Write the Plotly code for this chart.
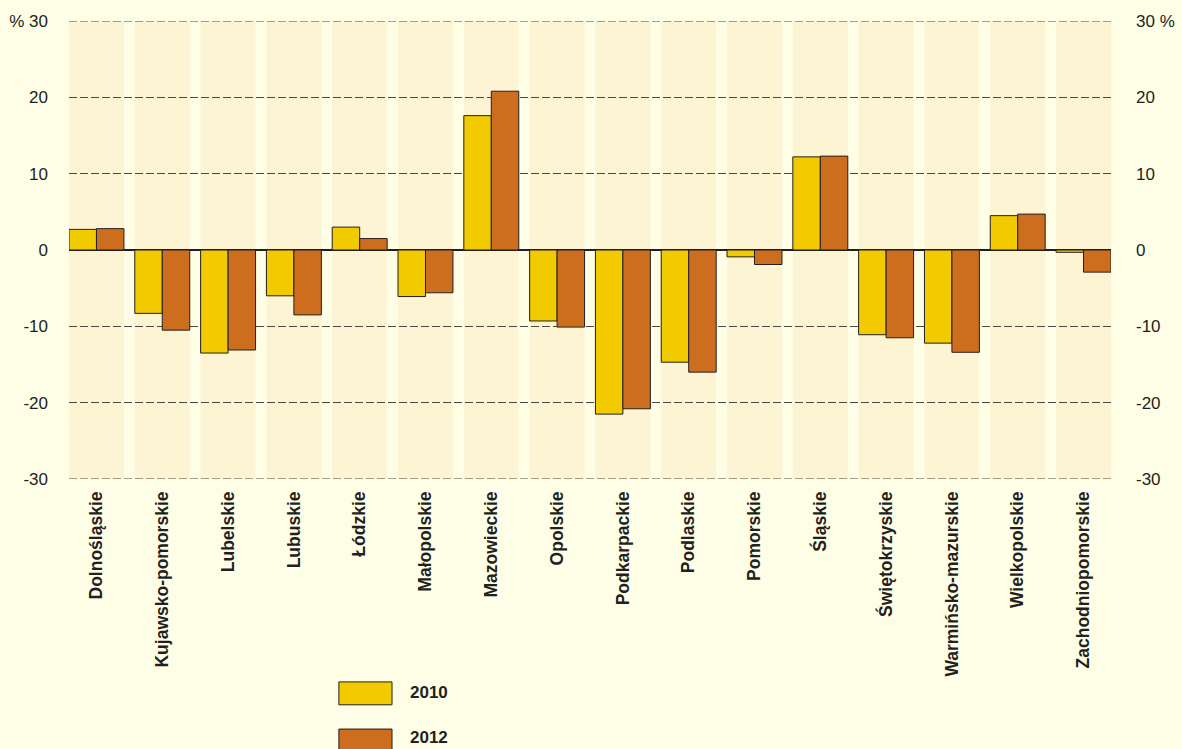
import plotly.graph_objects as go

regions = ["Dolnośląskie", "Kujawsko-pomorskie", "Lubelskie", "Lubuskie", "Łódzkie",
           "Małopolskie", "Mazowieckie", "Opolskie", "Podkarpackie", "Podlaskie",
           "Pomorskie", "Śląskie", "Świętokrzyskie", "Warmińsko-mazurskie",
           "Wielkopolskie", "Zachodniopomorskie"]
values_2010 = [2.7, -8.3, -13.5, -6.0, 3.0, -6.1, 17.6, -9.3, -21.5, -14.7,
               -0.9, 12.2, -11.1, -12.2, 4.5, -0.3]
values_2012 = [2.8, -10.5, -13.1, -8.5, 1.5, -5.6, 20.8, -10.1, -20.8, -16.0,
               -1.9, 12.3, -11.5, -13.4, 4.7, -2.9]
tick_vals = [-30, -20, -10, 0, 10, 20, 30]
left_ticks = ["-30", "-20", "-10", "0", "10", "20", "% 30"]
right_ticks = ["-30", "-20", "-10", "0", "10", "20", "30 %"]

PAGE = "#FEFDE6"
STRIPE = "#FDF4D3"
C2010 = "#F2CA00"
C2012 = "#CD6E1E"
INK = "#231F20"
GRID = "#4A4640"
FONT = "Liberation Sans Narrow, Arial Narrow, Liberation Sans, sans-serif"
HALF = 0.4175  # half width of a shaded column, in category units

fig = go.Figure()
fig.add_bar(x=list(range(len(regions))), y=values_2010, name="2010",
            marker=dict(color=C2010, line=dict(color=INK, width=1)))
fig.add_bar(x=list(range(len(regions))), y=values_2012, name="2012",
            marker=dict(color=C2012, line=dict(color=INK, width=1)))
# invisible trace carrying the right-hand axis
fig.add_scatter(x=[0], y=[0], yaxis="y2", mode="markers",
                marker=dict(opacity=0), showlegend=False, hoverinfo="skip")

# shaded column behind each region
shapes = []
for i in range(len(regions)):
    shapes.append(dict(type="rect", xref="x", yref="y", x0=i - HALF, x1=i + HALF,
                       y0=-30, y1=30, fillcolor=STRIPE, line_width=0, layer="below"))

# dashed lines at the range limits
for yv in (30, -30):
    shapes.append(dict(type="line", xref="paper", yref="y", x0=0, x1=1, y0=yv, y1=yv,
                       line=dict(color=GRID, width=1, dash="8px,3px")))

# legend swatches
for (y0, y1), col in zip([(-0.443, -0.493), (-0.546, -0.596)], [C2010, C2012]):
    shapes.append(dict(type="rect", xref="paper", yref="paper", x0=0.259, x1=0.31,
                       y0=y1, y1=y0, fillcolor=col, line=dict(color=INK, width=1)))

annotations = [
    dict(xref="paper", yref="paper", x=0.325, y=-0.466, text="<b>2010</b>",
         showarrow=False, xanchor="left", yanchor="middle",
         font=dict(family=FONT, size=17, color=INK)),
    dict(xref="paper", yref="paper", x=0.325, y=-0.564, text="<b>2012</b>",
         showarrow=False, xanchor="left", yanchor="middle",
         font=dict(family=FONT, size=17, color=INK)),
]

fig.update_layout(
    width=1182, height=749,
    margin=dict(l=69, r=71, t=21, b=270),
    paper_bgcolor=PAGE, plot_bgcolor=PAGE,
    barmode="group", bargap=0.165, bargroupgap=0,
    showlegend=False,
    shapes=shapes, annotations=annotations,
    font=dict(family=FONT, color=INK, size=18),
    xaxis=dict(range=[-HALF, len(regions) - 1 + HALF], tickmode="array",
               tickvals=list(range(len(regions))),
               ticktext=[f"<b>{r}</b>" for r in regions],
               tickangle=-90, tickfont=dict(size=17.5, family=FONT, color=INK),
               showgrid=False, zeroline=False, showline=False, ticks="",
               ticklabelstandoff=8, automargin=False),
    yaxis=dict(range=[-30, 30], tickmode="array", tickvals=tick_vals,
               ticktext=left_ticks, showgrid=True, gridcolor=GRID,
               griddash="8px,3px", gridwidth=1, zeroline=True,
               zerolinecolor=INK, zerolinewidth=1.5, showline=False,
               ticks="", ticklabelstandoff=20, automargin=False,
               tickfont=dict(size=17, family=FONT, color=INK)),
    yaxis2=dict(range=[-30, 30], overlaying="y", side="right", tickmode="array",
                tickvals=tick_vals, ticktext=right_ticks, showgrid=False,
                zeroline=False, showline=False, ticks="", ticklabelstandoff=24,
                automargin=False,
                tickfont=dict(size=17, family=FONT, color=INK)),
)

fig.write_html("out.html")
